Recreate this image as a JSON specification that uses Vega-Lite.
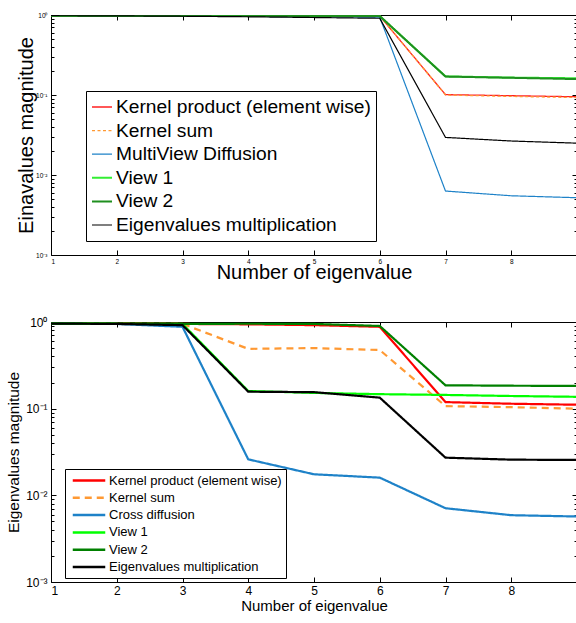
{
  "$schema": "https://vega.github.io/schema/vega-lite/v6.json",
  "background": "white",
  "padding": {"left": 6, "top": 11, "right": 0, "bottom": 0},
  "spacing": 32,
  "resolve": {"scale": {"color": "independent", "strokeDash": "independent", "strokeWidth": "independent"}, "legend": {"color": "independent", "strokeDash": "independent"}},
  "config": {
    "font": "Liberation Sans",
    "view": {"stroke": "black", "strokeWidth": 1},
    "axis": {"grid": false, "domain": false, "tickColor": "black", "labelColor": "black", "titleColor": "black", "titleFontWeight": "normal", "labelFont": "Liberation Sans", "titleFont": "Liberation Sans"},
    "legend": {"labelFont": "Liberation Sans", "labelColor": "black"}
  },
  "datasets": {
    "top": [
      {"x":1,"v":0.98,"s":"Kernel product (element wise)"},{"x":2,"v":0.98,"s":"Kernel product (element wise)"},{"x":3,"v":0.975,"s":"Kernel product (element wise)"},{"x":4,"v":0.97,"s":"Kernel product (element wise)"},{"x":5,"v":0.97,"s":"Kernel product (element wise)"},{"x":6,"v":0.97,"s":"Kernel product (element wise)"},{"x":7,"v":0.101,"s":"Kernel product (element wise)"},{"x":8,"v":0.098,"s":"Kernel product (element wise)"},{"x":9,"v":0.095,"s":"Kernel product (element wise)"},
      {"x":1,"v":0.98,"s":"Kernel sum"},{"x":2,"v":0.98,"s":"Kernel sum"},{"x":3,"v":0.975,"s":"Kernel sum"},{"x":4,"v":0.97,"s":"Kernel sum"},{"x":5,"v":0.97,"s":"Kernel sum"},{"x":6,"v":0.98,"s":"Kernel sum"},{"x":7,"v":0.1,"s":"Kernel sum"},{"x":8,"v":0.096,"s":"Kernel sum"},{"x":9,"v":0.093,"s":"Kernel sum"},
      {"x":1,"v":0.98,"s":"MultiView Diffusion"},{"x":2,"v":0.975,"s":"MultiView Diffusion"},{"x":3,"v":0.97,"s":"MultiView Diffusion"},{"x":4,"v":0.96,"s":"MultiView Diffusion"},{"x":5,"v":0.95,"s":"MultiView Diffusion"},{"x":6,"v":0.94,"s":"MultiView Diffusion"},{"x":7,"v":0.0063,"s":"MultiView Diffusion"},{"x":8,"v":0.0055,"s":"MultiView Diffusion"},{"x":9,"v":0.0052,"s":"MultiView Diffusion"},
      {"x":1,"v":0.98,"s":"View 1"},{"x":2,"v":0.98,"s":"View 1"},{"x":3,"v":0.975,"s":"View 1"},{"x":4,"v":0.97,"s":"View 1"},{"x":5,"v":0.97,"s":"View 1"},{"x":6,"v":0.97,"s":"View 1"},{"x":7,"v":0.171,"s":"View 1"},{"x":8,"v":0.165,"s":"View 1"},{"x":9,"v":0.162,"s":"View 1"},
      {"x":1,"v":0.98,"s":"View 2"},{"x":2,"v":0.98,"s":"View 2"},{"x":3,"v":0.975,"s":"View 2"},{"x":4,"v":0.97,"s":"View 2"},{"x":5,"v":0.97,"s":"View 2"},{"x":6,"v":0.97,"s":"View 2"},{"x":7,"v":0.17,"s":"View 2"},{"x":8,"v":0.164,"s":"View 2"},{"x":9,"v":0.158,"s":"View 2"},
      {"x":1,"v":0.98,"s":"Eigenvalues multiplication"},{"x":2,"v":0.975,"s":"Eigenvalues multiplication"},{"x":3,"v":0.965,"s":"Eigenvalues multiplication"},{"x":4,"v":0.95,"s":"Eigenvalues multiplication"},{"x":5,"v":0.93,"s":"Eigenvalues multiplication"},{"x":6,"v":0.91,"s":"Eigenvalues multiplication"},{"x":7,"v":0.0295,"s":"Eigenvalues multiplication"},{"x":8,"v":0.0266,"s":"Eigenvalues multiplication"},{"x":9,"v":0.025,"s":"Eigenvalues multiplication"}
    ],
    "bottom": [
      {"x":1,"v":0.96,"s":"Kernel product (element wise)"},{"x":2,"v":0.955,"s":"Kernel product (element wise)"},{"x":3,"v":0.95,"s":"Kernel product (element wise)"},{"x":4,"v":0.94,"s":"Kernel product (element wise)"},{"x":5,"v":0.92,"s":"Kernel product (element wise)"},{"x":6,"v":0.88,"s":"Kernel product (element wise)"},{"x":7,"v":0.119,"s":"Kernel product (element wise)"},{"x":8,"v":0.114,"s":"Kernel product (element wise)"},{"x":9,"v":0.111,"s":"Kernel product (element wise)"},
      {"x":1,"v":0.96,"s":"Kernel sum"},{"x":2,"v":0.955,"s":"Kernel sum"},{"x":3,"v":0.95,"s":"Kernel sum"},{"x":4,"v":0.49,"s":"Kernel sum"},{"x":5,"v":0.5,"s":"Kernel sum"},{"x":6,"v":0.475,"s":"Kernel sum"},{"x":7,"v":0.107,"s":"Kernel sum"},{"x":8,"v":0.104,"s":"Kernel sum"},{"x":9,"v":0.1,"s":"Kernel sum"},
      {"x":1,"v":0.96,"s":"Cross diffusion"},{"x":2,"v":0.95,"s":"Cross diffusion"},{"x":3,"v":0.88,"s":"Cross diffusion"},{"x":4,"v":0.026,"s":"Cross diffusion"},{"x":5,"v":0.0175,"s":"Cross diffusion"},{"x":6,"v":0.016,"s":"Cross diffusion"},{"x":7,"v":0.0071,"s":"Cross diffusion"},{"x":8,"v":0.0059,"s":"Cross diffusion"},{"x":9,"v":0.0057,"s":"Cross diffusion"},
      {"x":1,"v":0.96,"s":"View 1"},{"x":2,"v":0.955,"s":"View 1"},{"x":3,"v":0.95,"s":"View 1"},{"x":4,"v":0.16,"s":"View 1"},{"x":5,"v":0.152,"s":"View 1"},{"x":6,"v":0.147,"s":"View 1"},{"x":7,"v":0.144,"s":"View 1"},{"x":8,"v":0.14,"s":"View 1"},{"x":9,"v":0.137,"s":"View 1"},
      {"x":1,"v":0.96,"s":"View 2"},{"x":2,"v":0.955,"s":"View 2"},{"x":3,"v":0.95,"s":"View 2"},{"x":4,"v":0.955,"s":"View 2"},{"x":5,"v":0.95,"s":"View 2"},{"x":6,"v":0.9,"s":"View 2"},{"x":7,"v":0.186,"s":"View 2"},{"x":8,"v":0.184,"s":"View 2"},{"x":9,"v":0.183,"s":"View 2"},
      {"x":1,"v":0.96,"s":"Eigenvalues multiplication"},{"x":2,"v":0.95,"s":"Eigenvalues multiplication"},{"x":3,"v":0.92,"s":"Eigenvalues multiplication"},{"x":4,"v":0.157,"s":"Eigenvalues multiplication"},{"x":5,"v":0.155,"s":"Eigenvalues multiplication"},{"x":6,"v":0.134,"s":"Eigenvalues multiplication"},{"x":7,"v":0.0272,"s":"Eigenvalues multiplication"},{"x":8,"v":0.0258,"s":"Eigenvalues multiplication"},{"x":9,"v":0.0256,"s":"Eigenvalues multiplication"}
    ]
  },
  "vconcat": [
    {
      "width": 526,
      "height": 240,
      "data": {"name": "top"},
      "layer": [
        {
          "mark": {"type": "line", "clip": true},
          "encoding": {
            "x": {"field": "x", "type": "quantitative", "scale": {"domain": [1, 9], "nice": false, "zero": false},
              "axis": {"orient": "bottom", "values": [1,2,3,4,5,6,7,8], "tickSize": -5, "labelFontSize": 6.5, "labelPadding": 8, "title": "Number of eigenvalue", "titleFontSize": 20, "titlePadding": -2}},
            "y": {"field": "v", "type": "quantitative", "scale": {"type": "log", "domain": [0.001, 1], "nice": false},
              "axis": {"orient": "left", "values": [0.001, 0.01, 0.1, 1], "tickSize": -5, "labelFontSize": 6.5, "labelPadding": 9, "labelExpr": "datum.value >= 0.5 ? '10⁰' : datum.value >= 0.05 ? '10⁻¹' : datum.value >= 0.005 ? '10⁻²' : '10⁻³'", "title": "Einavalues magnitude", "titleFontSize": 20, "titlePadding": -1}},
            "color": {"field": "s", "type": "nominal",
              "scale": {"domain": ["Kernel product (element wise)", "Kernel sum", "MultiView Diffusion", "View 1", "View 2", "Eigenvalues multiplication"], "range": ["#FF2020", "#FF9933", "#1E82C8", "#33EE33", "#1F8F1F", "#000000"]},
              "legend": {"orient": "none", "legendX": 35, "legendY": 76, "title": null, "strokeColor": "black", "fillColor": "white", "padding": 5, "labelFontSize": 19.2, "labelLimit": 500, "labelOffset": 3, "symbolType": "stroke", "symbolSize": 400, "symbolStrokeWidth": 1.5, "rowPadding": 1.6}},
            "strokeDash": {"field": "s", "type": "nominal",
              "scale": {"domain": ["Kernel product (element wise)", "Kernel sum", "MultiView Diffusion", "View 1", "View 2", "Eigenvalues multiplication"], "range": [[1, 0], [3, 2.5], [1, 0], [1, 0], [1, 0], [1, 0]]}},
            "strokeWidth": {"field": "s", "type": "nominal", "legend": null,
              "scale": {"type": "ordinal", "domain": ["Kernel product (element wise)", "Kernel sum", "MultiView Diffusion", "View 1", "View 2", "Eigenvalues multiplication"], "range": [1.3, 1.3, 1.2, 2, 2, 1.2]}}
          }
        },
        {
          "mark": {"type": "line", "opacity": 0},
          "encoding": {
            "x": {"field": "x", "type": "quantitative", "scale": {"domain": [1, 9], "nice": false, "zero": false},
              "axis": {"orient": "top", "values": [1,2,3,4,5,6,7,8], "tickSize": -5, "labels": false, "title": null}},
            "y": {"field": "v", "type": "quantitative", "scale": {"type": "log", "domain": [0.001, 1], "nice": false},
              "axis": {"orient": "right", "values": [0.001, 0.01, 0.1, 1], "tickSize": -5, "labels": false, "title": null}}
          }
        },
        {
          "mark": {"type": "line", "opacity": 0},
          "encoding": {
            "x": {"field": "x", "type": "quantitative", "scale": {"domain": [1, 9], "nice": false, "zero": false}, "axis": null},
            "y": {"field": "v", "type": "quantitative", "scale": {"type": "log", "domain": [0.001, 1], "nice": false},
              "axis": {"orient": "left", "values": [0.002,0.003,0.004,0.005,0.006,0.007,0.008,0.009,0.02,0.03,0.04,0.05,0.06,0.07,0.08,0.09,0.2,0.3,0.4,0.5,0.6,0.7,0.8,0.9], "tickSize": -3, "labels": false, "title": null}}
          }
        },
        {
          "mark": {"type": "line", "opacity": 0},
          "encoding": {
            "x": {"field": "x", "type": "quantitative", "scale": {"domain": [1, 9], "nice": false, "zero": false}, "axis": null},
            "y": {"field": "v", "type": "quantitative", "scale": {"type": "log", "domain": [0.001, 1], "nice": false},
              "axis": {"orient": "right", "values": [0.002,0.003,0.004,0.005,0.006,0.007,0.008,0.009,0.02,0.03,0.04,0.05,0.06,0.07,0.08,0.09,0.2,0.3,0.4,0.5,0.6,0.7,0.8,0.9], "tickSize": -3, "labels": false, "title": null}}
          }
        }
      ],
      "resolve": {"axis": {"x": "independent", "y": "independent"}}
    },
    {
      "width": 526,
      "height": 260,
      "data": {"name": "bottom"},
      "layer": [
        {
          "mark": {"type": "line", "clip": true},
          "encoding": {
            "x": {"field": "x", "type": "quantitative", "scale": {"domain": [1, 9], "nice": false, "zero": false},
              "axis": {"orient": "bottom", "values": [1,2,3,4,5,6,7,8], "tickSize": -5, "labelFontSize": 12, "labelPadding": 8, "title": "Number of eigenvalue", "titleFontSize": 15, "titlePadding": 2}},
            "y": {"field": "v", "type": "quantitative", "scale": {"type": "log", "domain": [0.001, 1], "nice": false},
              "axis": {"orient": "left", "values": [0.001, 0.01, 0.1, 1], "tickSize": -5, "labelFontSize": 12, "labelPadding": 9, "labelExpr": "datum.value >= 0.5 ? '10⁰' : datum.value >= 0.05 ? '10⁻¹' : datum.value >= 0.005 ? '10⁻²' : '10⁻³'", "title": "Eigenvalues magnitude", "titleFontSize": 15.5, "titlePadding": 4}},
            "color": {"field": "s", "type": "nominal",
              "scale": {"domain": ["Kernel product (element wise)", "Kernel sum", "Cross diffusion", "View 1", "View 2", "Eigenvalues multiplication"], "range": ["#FF0000", "#FF9933", "#1E82C8", "#00FF00", "#008000", "#000000"]},
              "legend": {"orient": "none", "legendX": 14, "legendY": 147, "title": null, "strokeColor": "black", "fillColor": "white", "padding": 3.5, "labelFontSize": 13, "labelLimit": 500, "labelOffset": 12, "symbolType": "M-2.5,0H2.5", "symbolSize": 169, "symbolOffset": 12.5, "symbolStrokeWidth": 2.5, "rowPadding": 2.3}},
            "strokeDash": {"field": "s", "type": "nominal",
              "scale": {"domain": ["Kernel product (element wise)", "Kernel sum", "Cross diffusion", "View 1", "View 2", "Eigenvalues multiplication"], "range": [[1, 0], [7, 5], [1, 0], [1, 0], [1, 0], [1, 0]]}},
            "strokeWidth": {"value": 2.2}
          }
        },
        {
          "mark": {"type": "line", "opacity": 0},
          "encoding": {
            "x": {"field": "x", "type": "quantitative", "scale": {"domain": [1, 9], "nice": false, "zero": false},
              "axis": {"orient": "top", "values": [1,2,3,4,5,6,7,8], "tickSize": -5, "labels": false, "title": null}},
            "y": {"field": "v", "type": "quantitative", "scale": {"type": "log", "domain": [0.001, 1], "nice": false},
              "axis": {"orient": "right", "values": [0.001, 0.01, 0.1, 1], "tickSize": -5, "labels": false, "title": null}}
          }
        },
        {
          "mark": {"type": "line", "opacity": 0},
          "encoding": {
            "x": {"field": "x", "type": "quantitative", "scale": {"domain": [1, 9], "nice": false, "zero": false}, "axis": null},
            "y": {"field": "v", "type": "quantitative", "scale": {"type": "log", "domain": [0.001, 1], "nice": false},
              "axis": {"orient": "left", "values": [0.002,0.003,0.004,0.005,0.006,0.007,0.008,0.009,0.02,0.03,0.04,0.05,0.06,0.07,0.08,0.09,0.2,0.3,0.4,0.5,0.6,0.7,0.8,0.9], "tickSize": -3, "labels": false, "title": null}}
          }
        },
        {
          "mark": {"type": "line", "opacity": 0},
          "encoding": {
            "x": {"field": "x", "type": "quantitative", "scale": {"domain": [1, 9], "nice": false, "zero": false}, "axis": null},
            "y": {"field": "v", "type": "quantitative", "scale": {"type": "log", "domain": [0.001, 1], "nice": false},
              "axis": {"orient": "right", "values": [0.002,0.003,0.004,0.005,0.006,0.007,0.008,0.009,0.02,0.03,0.04,0.05,0.06,0.07,0.08,0.09,0.2,0.3,0.4,0.5,0.6,0.7,0.8,0.9], "tickSize": -3, "labels": false, "title": null}}
          }
        }
      ],
      "resolve": {"axis": {"x": "independent", "y": "independent"}}
    }
  ]
}
